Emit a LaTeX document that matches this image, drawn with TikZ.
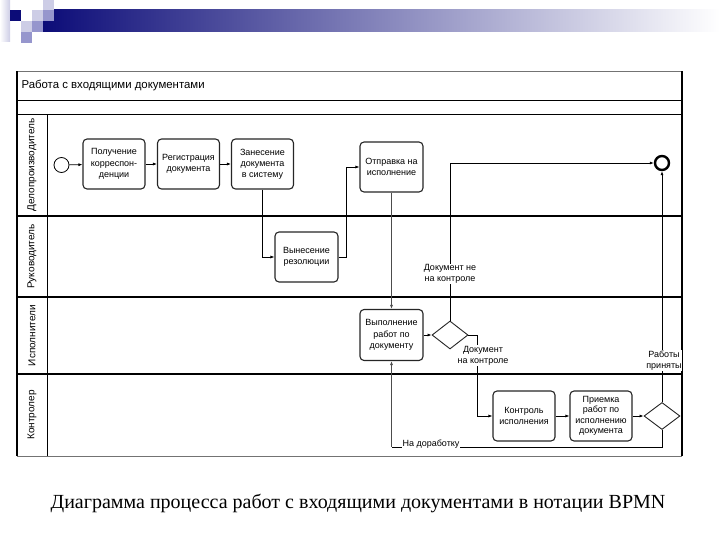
\documentclass[tikz,border=0pt]{standalone}
\usepackage{fontspec}
\setmainfont{Liberation Serif}
\newfontfamily\diagfont{Liberation Sans}
\usetikzlibrary{shapes.geometric,arrows.meta}
\definecolor{navy}{RGB}{12,12,120}
\definecolor{midblue}{RGB}{150,150,205}
\definecolor{paleblue}{RGB}{205,205,230}

\begin{document}
\begin{tikzpicture}[x=1pt,y=-1pt,
  task/.style={draw=black!85,line width=1.1pt,rounded corners=4pt,fill=white,
    minimum width=62pt,minimum height=50pt,inner sep=1pt,align=center,
    font=\diagfont\fontsize{9}{11.2}\selectfont},
  gateway/.style={draw=black!85,line width=0.9pt,diamond,fill=white,
    minimum width=36pt,minimum height=28pt,inner sep=0pt},
  flow/.style={line width=0.7pt,-{Latex[length=4pt,width=3pt]}},
  mainflow/.style={line width=1.6pt,draw=black!70,-{Latex[length=4pt,width=3pt]}},
  lbl/.style={fill=white,inner sep=0.5pt,align=center,
    font=\diagfont\fontsize{9}{11}\selectfont},
  lane/.style={rotate=90,font=\diagfont\fontsize{10}{12}\selectfont}]
\useasboundingbox (0,0) rectangle (720,540);

% slide header
\shade[left color=white,right color=paleblue] (0,0) rectangle (10,42);
\shade[left color=navy,right color=white] (43,10) rectangle (720,32);
\fill[navy] (10,10) rectangle (21,21);
\fill[paleblue] (43,0) rectangle (54,10);
\fill[paleblue] (32,10) rectangle (43,21);
\fill[midblue] (43,10) rectangle (54,21);
\fill[paleblue] (21,21) rectangle (32,32);
\fill[midblue] (32,21) rectangle (43,32);
\fill[midblue] (21,32) rectangle (32,43);

% pool and lanes
\draw[line width=1.5pt,black!55] (17,71.5) -- (682,71.5);
\draw[line width=0.8pt,black!55] (17,456) -- (682,456);
\draw[line width=1.3pt] (17,71.5) -- (17,456) (682,71.5) -- (682,456);
\draw[line width=1.2pt] (17,100.5) -- (682,100.5);
\draw[line width=1.5pt] (17,114.5) -- (682,114.5);
\draw[line width=2pt] (17,216) -- (682,216);
\draw[line width=2pt] (17,297) -- (682,297);
\draw[line width=2.5pt] (17,374) -- (682,374);
\draw[line width=1.3pt] (47.5,114.5) -- (47.5,456);

\node[anchor=west,font=\diagfont\fontsize{11.4}{13}\selectfont] (pool) at (18,86) {Работа с входящими документами};
\node[lane] (clerk) at (32,165) {Делопроизводитель};
\node[lane] (head) at (32,256.5) {Руководитель};
\node[lane] (staff) at (32,335.5) {Исполнители};
\node[lane] (ctrlr) at (32,415) {Контролер};

% events, tasks and gateways
\node[draw,circle,line width=0.8pt,minimum size=15pt,inner sep=0pt] (start) at (61.5,165) {};
\node[task] (recv) at (114,164) {Получение\\корреспон-\\денции};
\node[task] (reg) at (188.5,164) {Регистрация\\документа};
\node[task] (entry) at (262.5,164) {Занесение\\документа\\в систему};
\node[task,minimum width=63pt] (resol) at (306.5,257) {Вынесение\\резолюции};
\node[task,minimum width=63pt] (send) at (391.5,167) {Отправка на\\исполнение};
\node[task,minimum width=63pt,minimum height=51pt] (exec) at (391.5,335) {Выполнение\\работ по\\документу};
\node[gateway] (gw1) at (450,335) {};
\node[draw,circle,line width=2.4pt,minimum size=14pt,inner sep=0pt] (finish) at (662,163) {};
\node[task] (ctrl) at (524,416) {Контроль\\исполнения};
\node[task,font=\diagfont\fontsize{9}{10.5}\selectfont] (accept) at (601,416) {Приемка\\работ по\\исполнению\\документа};
\node[gateway,minimum height=27pt] (gw2) at (662,416) {};

% sequence flows
\draw[flow] (start) -- (recv);
\draw[flow] (recv) -- (reg);
\draw[flow] (reg) -- (entry);
\draw[flow] (entry) |- (resol);
\draw[flow] (resol.east) -- ++(8,0) |- (send.west);
\draw[mainflow] (send) -- (exec);
\draw[flow] (exec) -- (gw1);
\draw[flow] (gw1.north) |- (finish.west);
\draw[flow] (gw1.east) -- ++(9,0) |- (ctrl.west);
\draw[flow] (ctrl) -- (accept);
\draw[flow] (accept) -- (gw2);
\draw[flow] (gw2.north) -- (finish.south);
\coordinate (back) at (662,447);
\draw[line width=0.7pt] (gw2.south) -- (back) -- (back -| exec.south);
\draw[mainflow] (back -| exec.south) -- (exec.south);

\node[lbl] (notctl) at (450,274) {Документ не\\на контроле};
\node[lbl] (onctl) at (483,355.5) {Документ\\на контроле};
\node[lbl] (done) at (664,360.5) {Работы\\приняты};
\node[lbl] (rework) at (431,444) {На доработку};

% caption
\node[font=\fontsize{20}{22}\selectfont] (caption) at (358,503) {Диаграмма процесса работ с входящими документами в нотации BPMN};
\end{tikzpicture}
\end{document}
